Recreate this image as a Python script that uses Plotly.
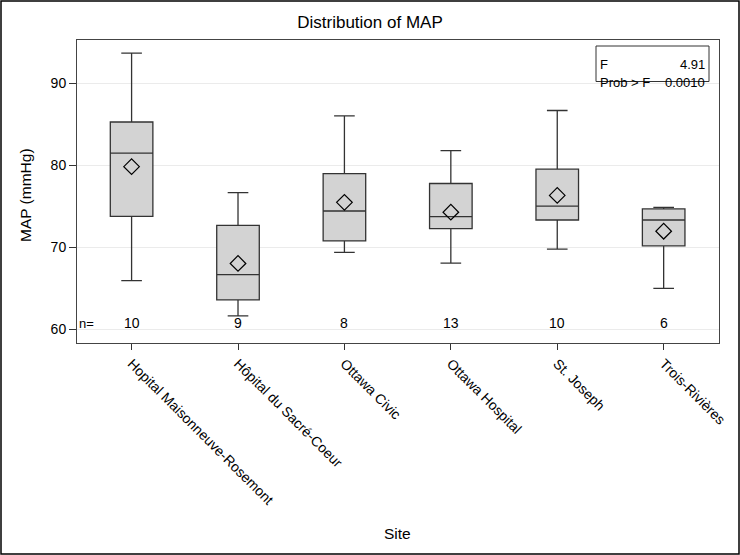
import plotly.graph_objects as go

sites = ["Hopital Maisonneuve-Rosemont", "Hôpital du Sacré-Coeur", "Ottawa Civic",
         "Ottawa Hospital", "St. Joseph", "Trois-Rivières"]
q1 = [73.8, 63.6, 70.8, 72.3, 73.35, 70.2]
median = [81.5, 66.7, 74.45, 73.75, 75.05, 73.35]
q3 = [85.3, 72.7, 79.0, 77.8, 79.55, 74.7]
lower = [65.95, 61.65, 69.4, 68.1, 69.8, 65.0]
upper = [93.7, 76.7, 86.05, 81.8, 86.7, 74.9]
means = [79.85, 68.05, 75.5, 74.3, 76.35, 71.98]
counts = [10, 9, 8, 13, 10, 6]
f_value = "4.91"
p_value = "0.0010"

FONT = "Liberation Sans, Arial, sans-serif"

fig = go.Figure()
fig.add_trace(go.Box(
    x=sites, q1=q1, median=median, q3=q3, lowerfence=lower, upperfence=upper,
    fillcolor="#D3D3D3", line=dict(color="#333333", width=1.3),
    width=0.40, whiskerwidth=0.485, boxpoints=False, showlegend=False,
    hoverinfo="skip",
))
fig.add_trace(go.Scatter(
    x=sites, y=means, mode="markers",
    marker=dict(symbol="diamond-open", size=12, color="black", line=dict(width=1.2)),
    showlegend=False,
))

W, H = 740, 555
L, R, T, B = 77, 21, 40, 212
pw, ph = W - L - R, H - T - B

def px(x):
    return (x - L) / pw

def py(y):
    return (H - B - y) / ph

TXT = dict(size=14, color="black", family=FONT)
BOXTXT = dict(size=13, color="black", family=FONT)

annotations = []
for s, n in zip(sites, counts):
    annotations.append(dict(x=s, y=60.75, xref="x", yref="y", text=str(n), showarrow=False,
                            font=TXT))
annotations.append(dict(x=0.0, y=60.75, xref="paper", yref="y", text="n=", showarrow=False,
                        xanchor="left", font=dict(size=13, color="black", family=FONT)))

# inset stats box
annotations += [
    dict(x=px(598), y=py(55), xref="paper", yref="paper", text="F",
         showarrow=False, xanchor="left", font=BOXTXT),
    dict(x=px(707), y=py(55), xref="paper", yref="paper", text=f_value,
         showarrow=False, xanchor="right", font=BOXTXT),
    dict(x=px(598), y=py(72.5), xref="paper", yref="paper", text="Prob > F",
         showarrow=False, xanchor="left", font=BOXTXT),
    dict(x=px(707), y=py(72.5), xref="paper", yref="paper", text=p_value,
         showarrow=False, xanchor="right", font=BOXTXT),
    dict(x=px(25), y=py(195), xref="paper", yref="paper", text="MAP (mmHg)", textangle=-90,
         showarrow=False, xanchor="center", yanchor="middle",
         font=dict(size=15.5, color="black", family=FONT)),
    dict(x=px(397), y=py(533), xref="paper", yref="paper", text="Site",
         showarrow=False, xanchor="center", yanchor="middle",
         font=dict(size=15.5, color="black", family=FONT)),
]

shapes = [
    dict(type="rect", xref="paper", yref="paper", x0=px(596), x1=px(709), y0=py(81.5), y1=py(46),
         line=dict(color="#333333", width=1)),
    dict(type="rect", xref="paper", yref="paper",
         x0=px(1), x1=px(739), y0=py(554), y1=py(1),
         line=dict(color="black", width=1.5)),
]

fig.update_layout(
    width=W, height=H,
    margin=dict(l=L, r=R, t=T, b=B, autoexpand=False),
    paper_bgcolor="white", plot_bgcolor="white",
    font=dict(family=FONT, color="black", size=14),
    title=dict(text="Distribution of MAP", x=px(398), xanchor="center", y=1 - 22 / H,
               yanchor="middle", font=dict(size=17, family=FONT, color="black")),
    xaxis=dict(type="category", range=[-0.513, 5.52], tickangle=45, ticks="outside", ticklen=6,
               tickcolor="#333", showline=True, linecolor="#444", linewidth=1, mirror=True,
               showgrid=False, tickfont=dict(size=14, family=FONT, color="black")),
    yaxis=dict(range=[58.35, 95.3], tickvals=[60, 70, 80, 90], ticks="outside", ticklen=7,
               tickcolor="#333", showline=True, linecolor="#444", linewidth=1, mirror=True,
               showgrid=True, gridcolor="#EBEBEB", zeroline=False,
               tickfont=dict(size=14, family=FONT, color="black")),
    annotations=annotations, shapes=shapes,
)

fig.write_html("out.html", post_script="document.body.style.margin='0';",
               config={"displayModeBar": False})
